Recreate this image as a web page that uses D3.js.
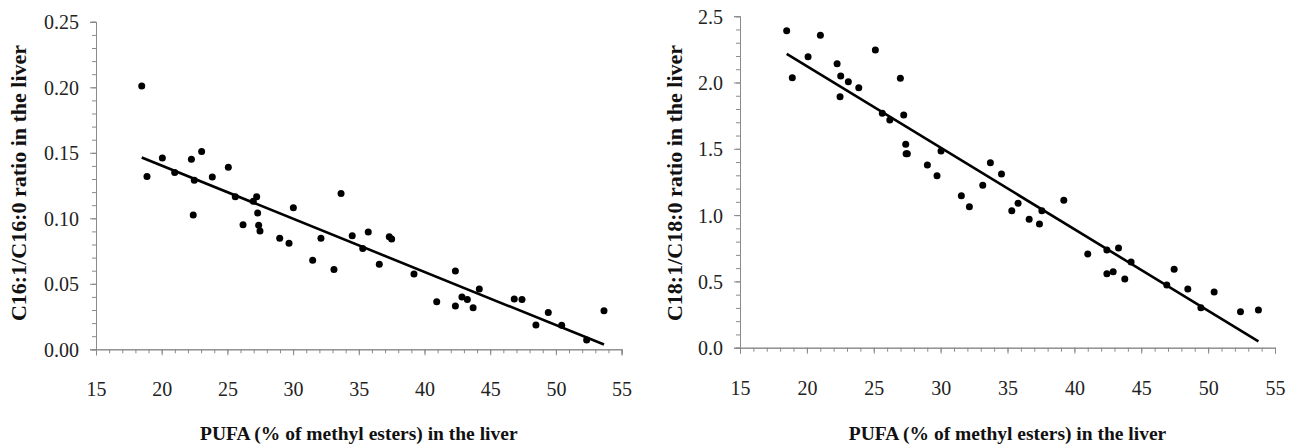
<!DOCTYPE html>
<html>
<head>
<meta charset="utf-8">
<script src="https://cdn.jsdelivr.net/npm/d3@7"></script>
<style>
  body { margin: 0; background: #fff; }
  svg { display: block; }
</style>
</head>
<body>
<svg id="chart" width="1300" height="446"></svg>
<script>
// PUFA (% of methyl esters) and desaturation index per animal
const pufaC16 = [18.48, 18.88, 20.05, 20.99, 22.26, 22.48, 22.40, 23.04, 23.85, 25.07,
  25.60, 26.19, 26.97, 27.23, 27.30, 27.38, 27.48, 28.98, 29.69, 30.02,
  31.49, 32.12, 33.11, 33.65, 34.50, 35.30, 35.72, 36.56, 37.32, 37.50,
  39.20, 40.93, 42.35, 42.35, 42.85, 43.26, 43.70, 44.17, 46.83, 47.42,
  48.48, 49.42, 50.44, 52.34, 53.66]
const ratioC16 = [0.201, 0.132, 0.146, 0.135, 0.145, 0.129, 0.1025, 0.151, 0.1315, 0.139,
  0.1165, 0.095, 0.113, 0.1165, 0.104, 0.0947, 0.0903, 0.0847, 0.081, 0.108,
  0.068, 0.0847, 0.061, 0.119, 0.0867, 0.077, 0.0895, 0.065, 0.086, 0.0842,
  0.0575, 0.0363, 0.0598, 0.033, 0.040, 0.038, 0.0318, 0.046, 0.0384, 0.038,
  0.0185, 0.028, 0.0183, 0.0071, 0.0295]

const pufaC18 = [18.49, 18.91, 20.09, 21.01, 22.26, 22.53, 22.48, 23.10, 23.88, 25.12,
  25.64, 26.20, 26.99, 27.24, 27.39, 27.42, 27.51, 29.01, 29.73, 30.03,
  31.55, 32.15, 33.15, 33.72, 34.55, 35.32, 35.79, 36.62, 37.39, 37.57,
  39.21, 41.00, 42.43, 42.43, 42.90, 43.30, 43.77, 44.24, 46.91, 47.46,
  48.48, 49.46, 50.45, 52.42, 53.76]
const ratioC18 = [2.391, 2.036, 2.195, 2.356, 2.142, 2.049, 1.893, 2.006, 1.961, 2.245,
  1.768, 1.717, 2.032, 1.755, 1.534, 1.463, 1.463, 1.378, 1.297, 1.483,
  1.146, 1.063, 1.225, 1.395, 1.310, 1.033, 1.089, 0.968, 0.933, 1.033,
  1.112, 0.707, 0.737, 0.558, 0.573, 0.752, 0.518, 0.646, 0.473, 0.591,
  0.443, 0.302, 0.420, 0.272, 0.284]

const xTicks = [15, 20, 25, 30, 35, 40, 45, 50, 55]
const yTicksC16 = [0, 0.05, 0.10, 0.15, 0.20, 0.25]
const yTicksC18 = [0, 0.5, 1.0, 1.5, 2.0, 2.5]

const xTitle = 'PUFA (% of methyl esters) in the liver'

const svg = d3.select('#chart')
const serif = "'Liberation Serif', 'Times New Roman', serif"
const axisColor = '#8a8a8a'

function fitLine (xs, ys) {
  const mx = d3.mean(xs)
  const my = d3.mean(ys)
  let sxy = 0
  let sxx = 0
  xs.forEach((x, i) => {
    sxy += (x - mx) * (ys[i] - my)
    sxx += (x - mx) * (x - mx)
  })
  const slope = sxy / sxx
  return { slope, intercept: my - slope * mx }
}

function styleAxis (g) {
  g.attr('font-family', serif).attr('font-size', 20)
  g.select('.domain').attr('stroke', axisColor)
  g.selectAll('.tick line').attr('stroke', axisColor)
  g.selectAll('.tick text').attr('fill', '#222')
}

function drawPanel (opts) {
  const { left, right, top, bottom, xs, ys, yTicks, yMinor, yFormat, yTitle, yTitleX } = opts
  const x = d3.scaleLinear().domain([15, 55]).range([left, right])
  const y = d3.scaleLinear().domain([0, yTicks[yTicks.length - 1]]).range([bottom, top])
  const g = svg.append('g')

  // minor ticks first, majors over them
  g.append('g')
    .attr('transform', `translate(0,${bottom})`)
    .call(d3.axisBottom(x).tickValues(d3.range(15, 55.5, 1)).tickSize(4).tickFormat(''))
    .call(styleAxis)
  g.append('g')
    .attr('transform', `translate(${left},0)`)
    .call(d3.axisLeft(y).tickValues(yMinor).tickSize(4).tickFormat(''))
    .call(styleAxis)

  const xAxis = g.append('g')
    .attr('transform', `translate(0,${bottom})`)
    .call(d3.axisBottom(x).tickValues(xTicks).tickSize(6).tickPadding(41).tickFormat(d3.format('d')))
    .call(styleAxis)
  xAxis.selectAll('text').attr('dy', '0')
  const yAxis = g.append('g')
    .attr('transform', `translate(${left},0)`)
    .call(d3.axisLeft(y).tickValues(yTicks).tickSize(6).tickPadding(11).tickFormat(d3.format(yFormat)))
    .call(styleAxis)
  yAxis.selectAll('text').attr('dy', '0.35em')

  const fit = fitLine(xs, ys)
  const [x0, x1] = d3.extent(xs)
  g.append('line')
    .attr('x1', x(x0)).attr('y1', y(fit.intercept + fit.slope * x0))
    .attr('x2', x(x1)).attr('y2', y(fit.intercept + fit.slope * x1))
    .attr('stroke', '#000')
    .attr('stroke-width', 2.6)

  g.append('g')
    .selectAll('circle')
    .data(xs.map((v, i) => [v, ys[i]]))
    .enter()
    .append('circle')
    .attr('cx', (d) => x(d[0]))
    .attr('cy', (d) => y(d[1]))
    .attr('r', 3.5)
    .attr('fill', '#000')

  g.append('text')
    .attr('x', (left + right) / 2)
    .attr('y', 440)
    .attr('text-anchor', 'middle')
    .attr('font-family', serif)
    .attr('font-weight', 'bold')
    .attr('font-size', 19.5)
    .attr('fill', '#111')
    .text(xTitle)

  g.append('text')
    .attr('transform', `translate(${yTitleX},183) rotate(-90)`)
    .attr('text-anchor', 'middle')
    .attr('font-family', serif)
    .attr('font-weight', 'bold')
    .attr('font-size', 22)
    .attr('fill', '#111')
    .text(yTitle)
}

drawPanel({
  left: 96, right: 621.6, top: 21.8, bottom: 349.3,
  xs: pufaC16, ys: ratioC16,
  yTicks: yTicksC16, yMinor: d3.range(0, 26).map((i) => i / 100), yFormat: '.2f',
  yTitle: 'C16:1/C16:0 ratio in the liver', yTitleX: 26
})

drawPanel({
  left: 740, right: 1275, top: 16.2, bottom: 347.7,
  xs: pufaC18, ys: ratioC18,
  yTicks: yTicksC18, yMinor: d3.range(0, 26).map((i) => i / 10), yFormat: '.1f',
  yTitle: 'C18:1/C18:0 ratio in the liver', yTitleX: 682
})
</script>
</body>
</html>
